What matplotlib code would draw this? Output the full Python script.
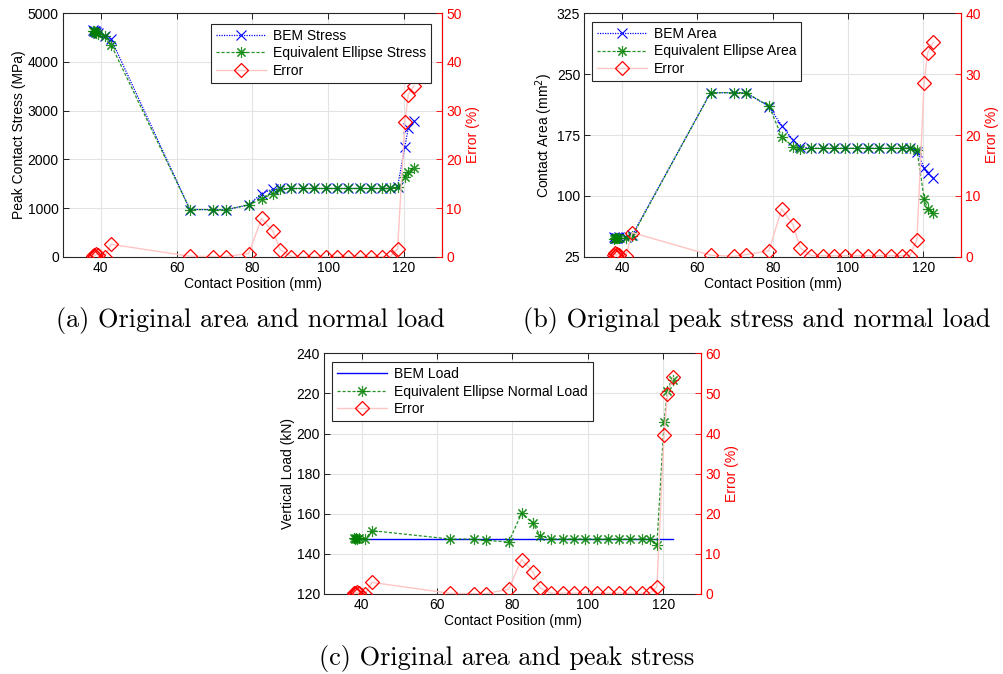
import matplotlib.pyplot as plt
import numpy as np

plt.rcParams['font.family'] = ['Liberation Sans', 'DejaVu Sans']
plt.rcParams['font.size'] = 10

# contact positions (mm), shared by all three cases
pos = [37.9, 38.2, 38.5, 38.8, 39.3, 41.0, 42.7, 63.5, 69.7, 72.9, 79.0, 82.4, 85.4, 87.3,
       90.3, 93.3, 96.3, 99.3, 102.3, 105.3, 108.3, 111.3, 114.3, 116.4, 118.3, 120.2, 121.1, 122.6]

# (a) peak contact stress (MPa)
stress_bem = [4650, 4640, 4630, 4620, 4600, 4530, 4466, 973, 970, 968, 1068, 1301, 1390, 1404,
              1404, 1404, 1404, 1404, 1404, 1404, 1404, 1404, 1404, 1404, 1438, 2260, 2637, 2795]
stress_ee = [4640, 4630, 4620, 4600, 4580, 4520, 4349, 973, 970, 968, 1068, 1185, 1301, 1390,
             1404, 1404, 1404, 1404, 1404, 1404, 1404, 1404, 1404, 1404, 1425, 1644, 1740, 1829]
stress_err = [0.3, 0.5, 0.2, 0.6, 0.4, 0.1, 2.6, 0.15, 0.1, 0.1, 0.7, 7.9, 5.3, 1.5,
              0.1, 0.1, 0.1, 0.1, 0.1, 0.1, 0.1, 0.1, 0.1, 0.1, 1.7, 27.6, 33.2, 35.1]

# (b) contact area (mm^2)
area_bem = [49.0, 48.5, 48.8, 48.2, 49.5, 50.0, 51.7, 227, 227, 227, 210, 186.5, 168.8, 160.6,
            158.6, 158.6, 158.6, 158.6, 158.6, 158.6, 158.6, 158.6, 158.6, 159.4, 154.5, 135, 127.8, 122.4]
area_ee = [47.5, 48.0, 48.5, 48.0, 48.5, 48.8, 50.5, 227, 227, 227, 210.8, 173, 160.6, 157.8,
           158.6, 158.6, 158.6, 158.6, 158.6, 158.6, 158.6, 158.6, 158.6, 158.6, 156.5, 96.9, 84.6, 79.7]
area_err = [0.3, 0.6, 0.2, 0.5, 0.4, 0.1, 4.0, 0.3, 0.1, 0.4, 1.0, 7.9, 5.3, 1.5,
            0.2, 0.2, 0.2, 0.2, 0.2, 0.2, 0.2, 0.2, 0.2, 0.2, 2.85, 28.5, 33.4, 35.2]

# (c) vertical load (kN)
load_bem = [147.3] * len(pos)
load_ee = [147.8, 147.5, 147.9, 147.6, 147.7, 147.4, 151.6, 147.4, 147.3, 146.8, 145.9, 160.2, 155.4, 149.1,
           147.4, 147.4, 147.4, 147.4, 147.4, 147.4, 147.4, 147.4, 147.4, 147.4, 144.4, 205.6, 221.4, 226.7]
load_err = [0.2, 0.3, 0.1, 0.4, 0.2, 0.1, 2.9, 0.15, 0.1, 0.1, 1.2, 8.6, 5.5, 1.5,
            0.2, 0.2, 0.2, 0.2, 0.2, 0.2, 0.2, 0.2, 0.2, 0.2, 1.75, 39.6, 49.9, 54.0]

BLUE = '#0000ff'
GREEN = '#008000'
RED = '#ff0000'
PINK = '#ffc4c4'
AST = (8, 2, 0)  # matlab-style asterisk


def panel(rect, bem, ee, err, bem_label, ee_label, ylabel, yticks, errticks,
          bem_line, legend_anchor):
    ax = fig.add_axes(rect)
    if bem_line:
        ax.plot(pos, bem, color=BLUE, lw=1.0, label=bem_label)
    else:
        ax.plot(pos, bem, color=BLUE, lw=0.9, ls=(0, (1, 1)), marker='x', ms=7,
                mew=0.8, label=bem_label)
    ax.plot(pos, ee, color=GREEN, lw=0.9, ls=(0, (2.5, 1.5)), marker=AST, ms=8,
            mew=0.8, alpha=0.85, label=ee_label)
    ax.set_xlim(30, 130)
    ax.set_xticks([40, 60, 80, 100, 120])
    ax.set_ylim(yticks[0], yticks[-1])
    ax.set_yticks(yticks)
    ax.grid(True, color='#e3e3e3', lw=0.8)
    ax.set_axisbelow(True)
    ax.set_xlabel('Contact Position (mm)', labelpad=1)
    ax.set_ylabel(ylabel, labelpad=1)
    ax.tick_params(direction='in', top=True, length=4, width=0.6, pad=3)
    for s in ax.spines.values():
        s.set_linewidth(0.8)
        s.set_color('#262626')

    ax2 = ax.twinx()
    ax2.plot(pos, err, color=PINK, lw=1.0, marker='D', ms=7, mfc='none',
             mec=RED, mew=0.9, label='Error')
    ax2.set_ylim(errticks[0], errticks[-1])
    ax2.set_yticks(errticks)
    ax2.set_ylabel('Error (%)', color=RED, labelpad=3)
    ax2.tick_params(axis='y', colors=RED, direction='in', length=4, width=0.6, pad=3)
    ax2.spines['right'].set_color(RED)
    ax2.spines['right'].set_linewidth(0.8)
    for k in ('left', 'top', 'bottom'):
        ax2.spines[k].set_visible(False)

    h1, l1 = ax.get_legend_handles_labels()
    h2, l2 = ax2.get_legend_handles_labels()
    leg = ax2.legend(h1 + h2, l1 + l2, loc=legend_anchor[0], bbox_to_anchor=legend_anchor[1],
                     fancybox=False, edgecolor='#262626', framealpha=1, handlelength=3.6,
                     handletextpad=0.5, labelspacing=0.25, borderpad=0.35, borderaxespad=0)
    leg.get_frame().set_linewidth(0.8)
    return ax


fig = plt.figure(figsize=(10.04, 6.74), dpi=100)

panel([0.0627, 0.6187, 0.3775, 0.362], stress_bem, stress_ee, stress_err,
      'BEM Stress', 'Equivalent Ellipse Stress', 'Peak Contact Stress (MPa)',
      [0, 1000, 2000, 3000, 4000, 5000], [0, 10, 20, 30, 40, 50], False,
      ('upper right', (0.97, 0.955)))

panel([0.582, 0.6187, 0.3752, 0.362], area_bem, area_ee, area_err,
      'BEM Area', 'Equivalent Ellipse Area', 'Contact Area (mm$^2$)',
      [25, 100, 175, 250, 325], [0, 10, 20, 30, 40], False,
      ('upper left', (0.021, 0.963)))

panel([0.3227, 0.1187, 0.3755, 0.357], load_bem, load_ee, load_err,
      'BEM Load', 'Equivalent Ellipse Normal Load', 'Vertical Load (kN)',
      [120, 140, 160, 180, 200, 220, 240], [0, 10, 20, 30, 40, 50, 60], True,
      ('upper left', (0.022, 0.963)))

cap = dict(family='cmr10', fontsize=18.9, ha='center', va='center')
fig.text(250 / 1004, 1 - 320 / 674, '(a) Original area and normal load', **cap)
fig.text(757 / 1004, 1 - 320 / 674, '(b) Original peak stress and normal load', **cap)
fig.text(507 / 1004, 1 - 659 / 674, '(c) Original area and peak stress', **cap)

fig.savefig('out.png', dpi=100)
